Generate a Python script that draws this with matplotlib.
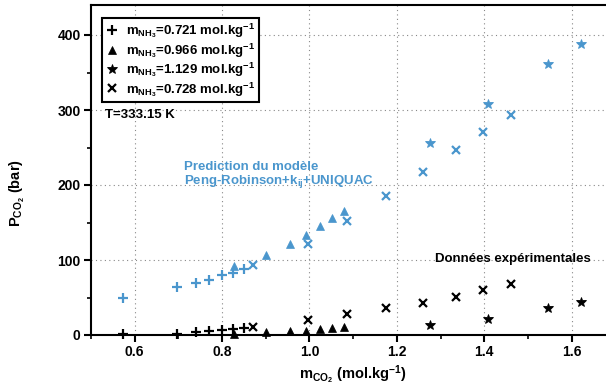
import matplotlib
matplotlib.use("Agg")
import matplotlib.pyplot as plt
from matplotlib.ticker import MultipleLocator, FormatStrFormatter

plt.rcParams['font.family'] = ['Liberation Sans', 'DejaVu Sans']
plt.rcParams['font.weight'] = 'bold'
plt.rcParams['axes.labelweight'] = 'bold'
plt.rcParams['mathtext.fontset'] = 'custom'
plt.rcParams['mathtext.rm'] = 'Liberation Sans:bold'
plt.rcParams['mathtext.bf'] = 'Liberation Sans:bold'
plt.rcParams['mathtext.it'] = 'Liberation Sans:bold'
plt.rcParams['mathtext.default'] = 'bf'

blue = '#4a96cd'

# m_NH3 = 0.721  (+)
x_721 = [0.573, 0.697, 0.741, 0.769, 0.799, 0.825, 0.850]
model_721 = [49, 64, 70, 74, 80, 83, 88]
exp_721 = [1, 2, 4.5, 5.3, 6.7, 7.5, 9.7]

# m_NH3 = 0.966  (triangle)
x_966 = [0.827, 0.900, 0.955, 0.991, 1.024, 1.052, 1.080]
model_966 = [92, 107, 122, 133, 145, 156, 166]
exp_966 = [2, 4, 5, 6, 8, 9, 11]

# m_NH3 = 1.129  (star)
x_1129 = [1.276, 1.408, 1.547, 1.621]
model_1129 = [256, 308, 361, 388]
exp_1129 = [13, 22, 36, 44.5]

# m_NH3 = 0.728  (x)
x_728 = [0.871, 0.996, 1.086, 1.176, 1.259, 1.335, 1.398, 1.461]
model_728 = [93, 122, 152, 186, 217, 247, 271, 294]
exp_728 = [11, 20, 28, 36, 43, 51, 59.5, 67.5]

labels = [r'$m_{NH_3}$=0.721 mol.kg$^{-1}$',
          r'$m_{NH_3}$=0.966 mol.kg$^{-1}$',
          r'$m_{NH_3}$=1.129 mol.kg$^{-1}$',
          r'$m_{NH_3}$=0.728 mol.kg$^{-1}$']

fig = plt.figure(figsize=(6.06, 3.87), dpi=100)
ax = fig.add_axes([91 / 606, 52 / 387, 524.3 / 606, 330 / 387])

series = [
    (x_721, model_721, exp_721, '+', 7.5, 1.6),
    (x_966, model_966, exp_966, '^', 5.5, 0.5),
    (x_1129, model_1129, exp_1129, '*', 7.5, 0.6),
    (x_728, model_728, exp_728, 'x', 5.5, 1.6),
]

handles = []
for (xs, mod, ex, mk, ms, mew), lab in zip(series, labels):
    h, = ax.plot(xs, ex, linestyle='none', marker=mk, ms=ms, mew=mew,
                 color='black', clip_on=False, zorder=3, label=lab)
    ax.plot(xs, mod, linestyle='none', marker=mk, ms=ms, mew=mew,
            color=blue, clip_on=False, zorder=3)
    handles.append(h)

ax.set_xlim(0.5, 1.7)
ax.set_ylim(0, 440)
ax.xaxis.set_major_locator(MultipleLocator(0.2))
ax.xaxis.set_minor_locator(MultipleLocator(0.1))
ax.xaxis.set_major_formatter(FormatStrFormatter('%.1f'))
ax.yaxis.set_major_locator(MultipleLocator(100))
ax.yaxis.set_minor_locator(MultipleLocator(50))
ax.set_xticks([0.6, 0.8, 1.0, 1.2, 1.4, 1.6])

ax.grid(True, which='major', linestyle=(0, (1, 3)), color='#888888', linewidth=0.8)
ax.tick_params(which='major', direction='out', length=5, width=1.5, labelsize=10, pad=2.5)
ax.tick_params(which='minor', direction='out', length=3, width=1.2)

for side in ['left', 'bottom', 'top']:
    ax.spines[side].set_linewidth(1.5)
ax.spines['right'].set_visible(False)

ax.set_xlabel(r'$m_{CO_2}$ (mol.kg$^{-1}$)', fontsize=10.5, labelpad=3)
ax.set_ylabel(r'$P_{CO_2}$ (bar)', fontsize=10.5)
ax.yaxis.set_label_coords(-0.122, 0.43)

leg = ax.legend(handles=handles, loc='upper left', bbox_to_anchor=(0.021, 0.96),
                fontsize=9.5, frameon=True, fancybox=False, framealpha=1,
                edgecolor='black', handlelength=1.0, handletextpad=0.6,
                labelspacing=0.05, borderpad=0.25, borderaxespad=0)
leg.get_frame().set_linewidth(1.5)

ax.text(0.027, 0.667, 'T=333.15 K', transform=ax.transAxes, fontsize=9.5,
        va='center', ha='left')
ax.text(0.712, 224, 'Prediction du modèle', color=blue, fontsize=9.5,
        va='center', ha='left')
ax.text(0.712, 205, r'Peng-Robinson+k$_{ij}$+UNIQUAC', color=blue, fontsize=9.5,
        va='center', ha='left')
ax.text(1.287, 101, 'Données expérimentales', color='black', fontsize=9.5,
        va='center', ha='left')

fig.savefig('out.png', dpi=100)
